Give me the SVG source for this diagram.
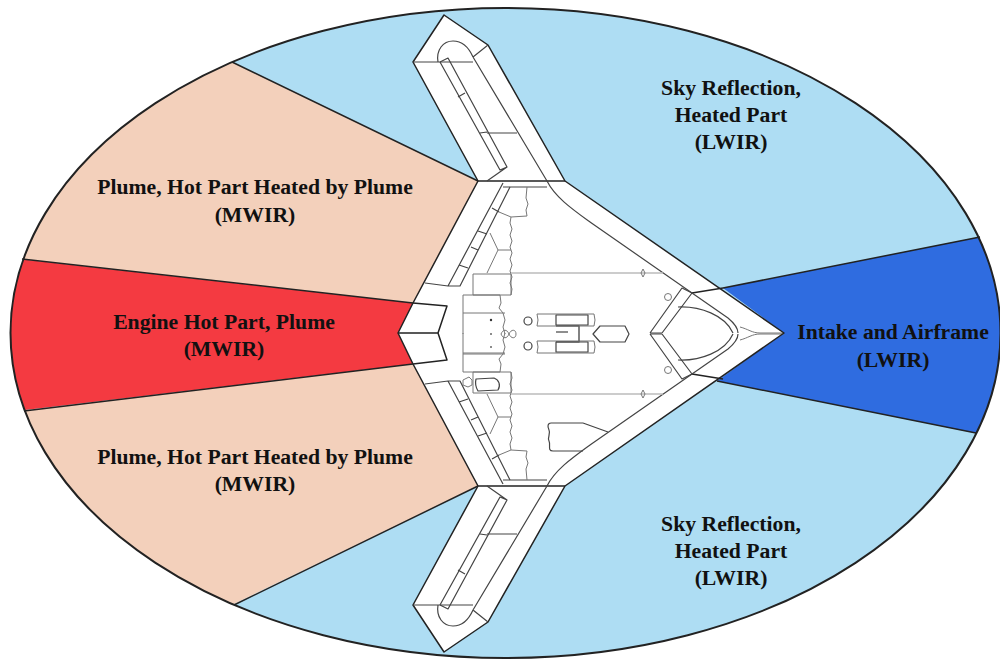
<svg xmlns="http://www.w3.org/2000/svg" width="1000" height="660" viewBox="0 0 1000 660">
<style>
.l{font:bold 21.7px "Liberation Serif","Times New Roman",serif;fill:#111;text-anchor:middle}
.o{fill:none;stroke:#222;stroke-width:1.5;stroke-linejoin:round}
.t{fill:none;stroke:#444;stroke-width:1.2;stroke-linejoin:round}
.g{fill:none;stroke:#777;stroke-width:1;stroke-linejoin:round}
.h{fill:none;stroke:#bbb;stroke-width:1.4}
</style>
<defs>
<clipPath id="ec"><ellipse cx="505.500" cy="333" rx="495" ry="325"/></clipPath>
<g id="half">
<path class="o" d="M478 181H565"/>
<path class="t" d="M503 187H547"/>
<path class="o" d="M478 181L413 62L444 15L488 45L565 181"/>
<path class="t" d="M413 62H473M473 57L488 45M473 57L547 181"/>
<path class="t" d="M438 62C436 50 443 41 453 41C463 41 469 48 473 57"/>
<path class="t" d="M440 62L448 58L507 167L487 181M440 62L500 170L507 167"/>
<path class="t" d="M458 97L465 93M480 133L487 132M487 133H517"/>
<path class="t" d="M547 181C555 197 572 209 590 222L692 293"/>
<path class="t" d="M503 183L448 286L425 283M510 187L460 286L448 286"/>
<path class="t" d="M492 208L499 212M478 231L487 234M471 247L478 250M459 265L468 268"/>
<path class="g" d="M499 212L511 217L527 216L526 210L528 204L526 198L527 187"/>
<path class="g" d="M511 217L510 223L512 229L510 235L512 241L510 247L512 253L510 259L512 265L510 271L512 277L510 283L512 289L511 295"/>
<path class="g" d="M490 233L498 250L487 273M498 250H511"/>
<path class="g" d="M473 274H511V295H473Z"/>
<path class="h" d="M511 273H663"/>
<path class="g" d="M643 269L645 273L643 277L641 273Z"/>
<path class="g" d="M463 295H500L501 303L499 308L503 313L505 320L503 327L505 334"/>
<path class="g" d="M463 295V334M463 313H505"/>
<circle class="t" cx="528" cy="321" r="4"/>
<path class="g" d="M537 314H594L595 320L594 326H537L538 320Z"/>
<path class="t" d="M556 315H588V325H556Z"/>
<circle class="g" cx="668" cy="297" r="3.500"/>
<path class="t" d="M650 333L682 288L692 293L662 333M650 333H662"/>
<path class="o" d="M692 293L723 288"/>
<path class="t" d="M692 293L728 318C734 323 738 328 738 333"/>
<path class="t" d="M678 307C700 306 725 315 733 333"/>
<path class="g" d="M740 327C748 329 752 333 760 333H784"/>
</g>
</defs>
<ellipse cx="505.500" cy="333" rx="495" ry="325" fill="#AEDDF3"/>
<g clip-path="url(#ec)">
<path fill="#F3D0BB" d="M232 62L478 181L413 303L0 257V413L413 364L478 486L232 605L0 620V40Z"/>
<path fill="#F43A41" d="M0 257L413 303L398 333L413 364L0 413Z"/>
<path fill="#2F6CE0" d="M723 288L1010 231V440L717 381L784 333Z"/>
</g>
<path class="o" d="M232 62L478 181M413 303L22 259M413 364L24 411M478 486L234 605M723 288L980 237M717 381L976 433"/>
<ellipse cx="505.500" cy="333" rx="495" ry="325" fill="none" stroke="#222" stroke-width="2"/>
<path id="airframe" fill="#fff" d="M478 181L413 62L444 15L488 45L565 181L784 333L565 486L488 622L444 652L413 605L478 486L413 364L447 360L438 333L447 306L413 303ZM398 333L413 303L478 181V486L413 364Z"/>
<use href="#half"/>
<use href="#half" transform="matrix(1 0 0 -1 0 667)"/>
<path class="o" d="M565 181L784 333L565 486M478 181L413 303L398 333L413 364L478 486"/>
<path class="o" d="M413 303L447 306L438 333L447 360L413 364M398 333H438"/>
<path class="t" d="M593 334L600 326H625L629 334L625 342H600Z"/>
<path class="t" d="M556 326H579V342H556"/>
<path class="g" d="M579 326V342M463 353H505"/>
<path class="t" d="M556 332H568"/>
<path class="g" d="M501 334C503 329 507 329 509 334C511 329 516 329 516 334C516 339 511 339 509 334C507 339 503 339 501 334Z"/>
<circle cx="491" cy="320" r="1.200" fill="#333"/><circle cx="491" cy="334" r="1" fill="#666"/><circle cx="491" cy="347" r="1" fill="#666"/>
<path class="t" d="M583 423H551C548 423 547 426 549 430C551 434 547 437 549 441C551 445 547 451 553 451H583M583 423L608 432"/>
<path class="t" d="M476 379L494 378C499 380 501 385 498 390L478 391C475 386 475 383 476 379Z"/>
<path class="g" d="M463 380L469 377L472 380V385L468 387L463 385Z"/>
<text class="l" x="255" y="194">Plume, Hot Part Heated by Plume</text>
<text class="l" x="255" y="222">(MWIR)</text>
<text class="l" x="224" y="329">Engine Hot Part, Plume</text>
<text class="l" x="224" y="356">(MWIR)</text>
<text class="l" x="255" y="464">Plume, Hot Part Heated by Plume</text>
<text class="l" x="255" y="491">(MWIR)</text>
<text class="l" x="731" y="95">Sky Reflection,</text>
<text class="l" x="731" y="122">Heated Part</text>
<text class="l" x="731" y="149">(LWIR)</text>
<text class="l" x="893" y="339">Intake and Airframe</text>
<text class="l" x="893" y="367">(LWIR)</text>
<text class="l" x="731" y="531">Sky Reflection,</text>
<text class="l" x="731" y="558">Heated Part</text>
<text class="l" x="731" y="585">(LWIR)</text>
</svg>
